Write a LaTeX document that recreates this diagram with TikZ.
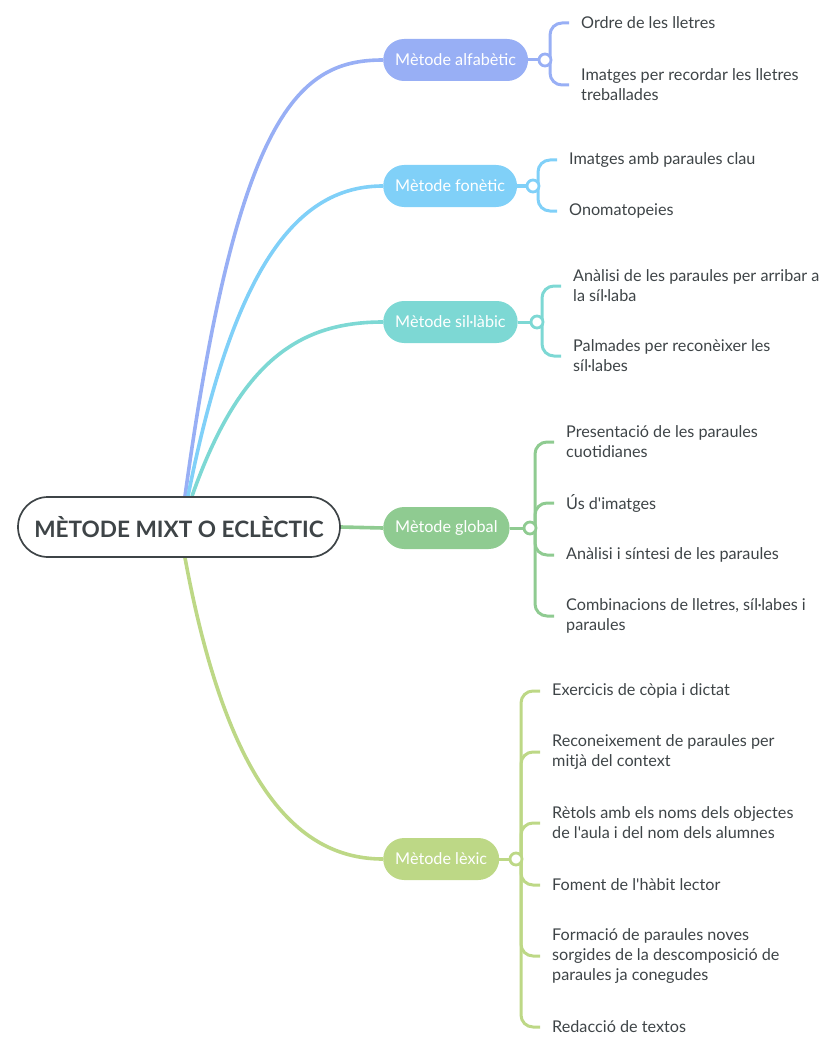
\documentclass[tikz,border=0pt]{standalone}
\usepackage{fontspec}
\setmainfont{Lato}[Ligatures=TeXOff]
\usetikzlibrary{calc,backgrounds}
\definecolor{ink}{HTML}{3E4447}
\definecolor{cA}{HTML}{98AFF5}
\definecolor{cB}{HTML}{80D0F8}
\definecolor{cC}{HTML}{7DD8D4}
\definecolor{cD}{HTML}{8FCB91}
\definecolor{cE}{HTML}{BDD886}
\begin{document}
\begin{tikzpicture}[x=1pt,y=-1pt,
  root/.style={draw=ink, line width=1.7pt, rounded corners=30pt, minimum height=60pt, minimum width=322pt, fill=white, text=ink, font=\bfseries\fontsize{22.6}{26}\selectfont},
  branch/.style={fill=#1, rounded corners=21pt, minimum height=42pt, inner xsep=12pt, text=white, font=\fontsize{16.2}{19}\selectfont, anchor=west},
  knob/.style={circle, draw=#1, fill=white, line width=2.8pt, minimum size=12pt, inner sep=0pt},
  conn/.style={draw=#1, line width=3.6pt},
  sub/.style={draw=#1, line width=3pt, rounded corners=12pt},
  leaf/.style={anchor=west, inner xsep=12pt, inner ysep=0pt, align=left, text=ink, font=\fontsize{16.2}{20}\selectfont}]
\useasboundingbox (0,0) rectangle (825,1051);

% root
\node[root] (R) at (179,527) {MÈTODE MIXT O ECLÈCTIC};

% branches
\node[branch=cA] (bA) at (383,60) {Mètode alfabètic};
\node[branch=cB] (bB) at (383,186) {Mètode fonètic};
\node[branch=cC] (bC) at (383,322) {Mètode sil·làbic};
\node[branch=cD] (bD) at (383,528) {Mètode global};
\node[branch=cE] (bE) at (383,859) {Mètode lèxic};

% knobs
\node[knob=cA] (kA) at (545,60) {};
\node[knob=cB] (kB) at (533,186) {};
\node[knob=cC] (kC) at (537,322) {};
\node[knob=cD] (kD) at (530,528) {};
\node[knob=cE] (kE) at (516,859) {};

% trunk positions
\coordinate (tA) at (550,60);
\coordinate (tB) at (538,186);
\coordinate (tC) at (542,322);
\coordinate (tD) at (535,528);
\coordinate (tE) at (521,859);

% leaves
\node[leaf] (a1) at (569,23) {Ordre de les lletres};
\node[leaf] (a2) at (569,85) {Imatges per recordar les lletres\\treballades};
\node[leaf] (b1) at (557,160) {Imatges amb paraules clau};
\node[leaf] (b2) at (557,211) {Onomatopeies};
\node[leaf] (c1) at (561,286) {Anàlisi de les paraules per arribar a\\la síl·laba};
\node[leaf] (c2) at (561,356) {Palmades per reconèixer les\\síl·labes};
\node[leaf] (d1) at (554,442) {Presentació de les paraules\\cuotidianes};
\node[leaf] (d2) at (554,503) {Ús d'imatges};
\node[leaf] (d3) at (554,555) {Anàlisi i síntesi de les paraules};
\node[leaf] (d4) at (554,616) {Combinacions de lletres, síl·labes i\\paraules};
\node[leaf] (e1) at (540,691) {Exercicis de còpia i dictat};
\node[leaf] (e2) at (540,752) {Reconeixement de paraules per\\mitjà del context};
\node[leaf] (e3) at (540,823) {Rètols amb els noms dels objectes\\de l'aula i del nom dels alumnes};
\node[leaf] (e4) at (540,885) {Foment de l'hàbit lector};
\node[leaf] (e5) at (540,956) {Formació de paraules noves\\sorgides de la descomposició de\\paraules ja conegudes};
\node[leaf] (e6) at (540,1027) {Redacció de textos};

\begin{scope}[on background layer]
  % root to branches
  \draw[conn=cA] ($(R.north)+(6,0)$) .. controls (238,110) and (300,60) .. (bA.west);
  \draw[conn=cB] ($(R.north)+(9,0)$) .. controls (235,260) and (300,186) .. (bB.west);
  \draw[conn=cC] ($(R.north)+(13,0)$) .. controls (240,360) and (300,322) .. (bC.west);
  \draw[conn=cD] (R.east) -- (bD.west);
  \draw[conn=cE] ($(R.south)+(6,0)$) .. controls (228,790) and (300,859) .. (bE.west);
  % branch to knob
  \draw[sub=cA] (bA.east) -- (kA);
  \draw[sub=cB] (bB.east) -- (kB);
  \draw[sub=cC] (bC.east) -- (kC);
  \draw[sub=cD] (bD.east) -- (kD);
  \draw[sub=cE] (bE.east) -- (kE);
  % knob to leaves
  \foreach \l in {a1,a2} \draw[sub=cA] (tA) -- (tA |- \l.west) -- (\l.west);
  \foreach \l in {b1,b2} \draw[sub=cB] (tB) -- (tB |- \l.west) -- (\l.west);
  \foreach \l in {c1,c2} \draw[sub=cC] (tC) -- (tC |- \l.west) -- (\l.west);
  \foreach \l in {d1,d2,d3,d4} \draw[sub=cD] (tD) -- (tD |- \l.west) -- (\l.west);
  \foreach \l in {e1,e2,e3,e4,e5,e6} \draw[sub=cE] (tE) -- (tE |- \l.west) -- (\l.west);
\end{scope}
\end{tikzpicture}
\end{document}
